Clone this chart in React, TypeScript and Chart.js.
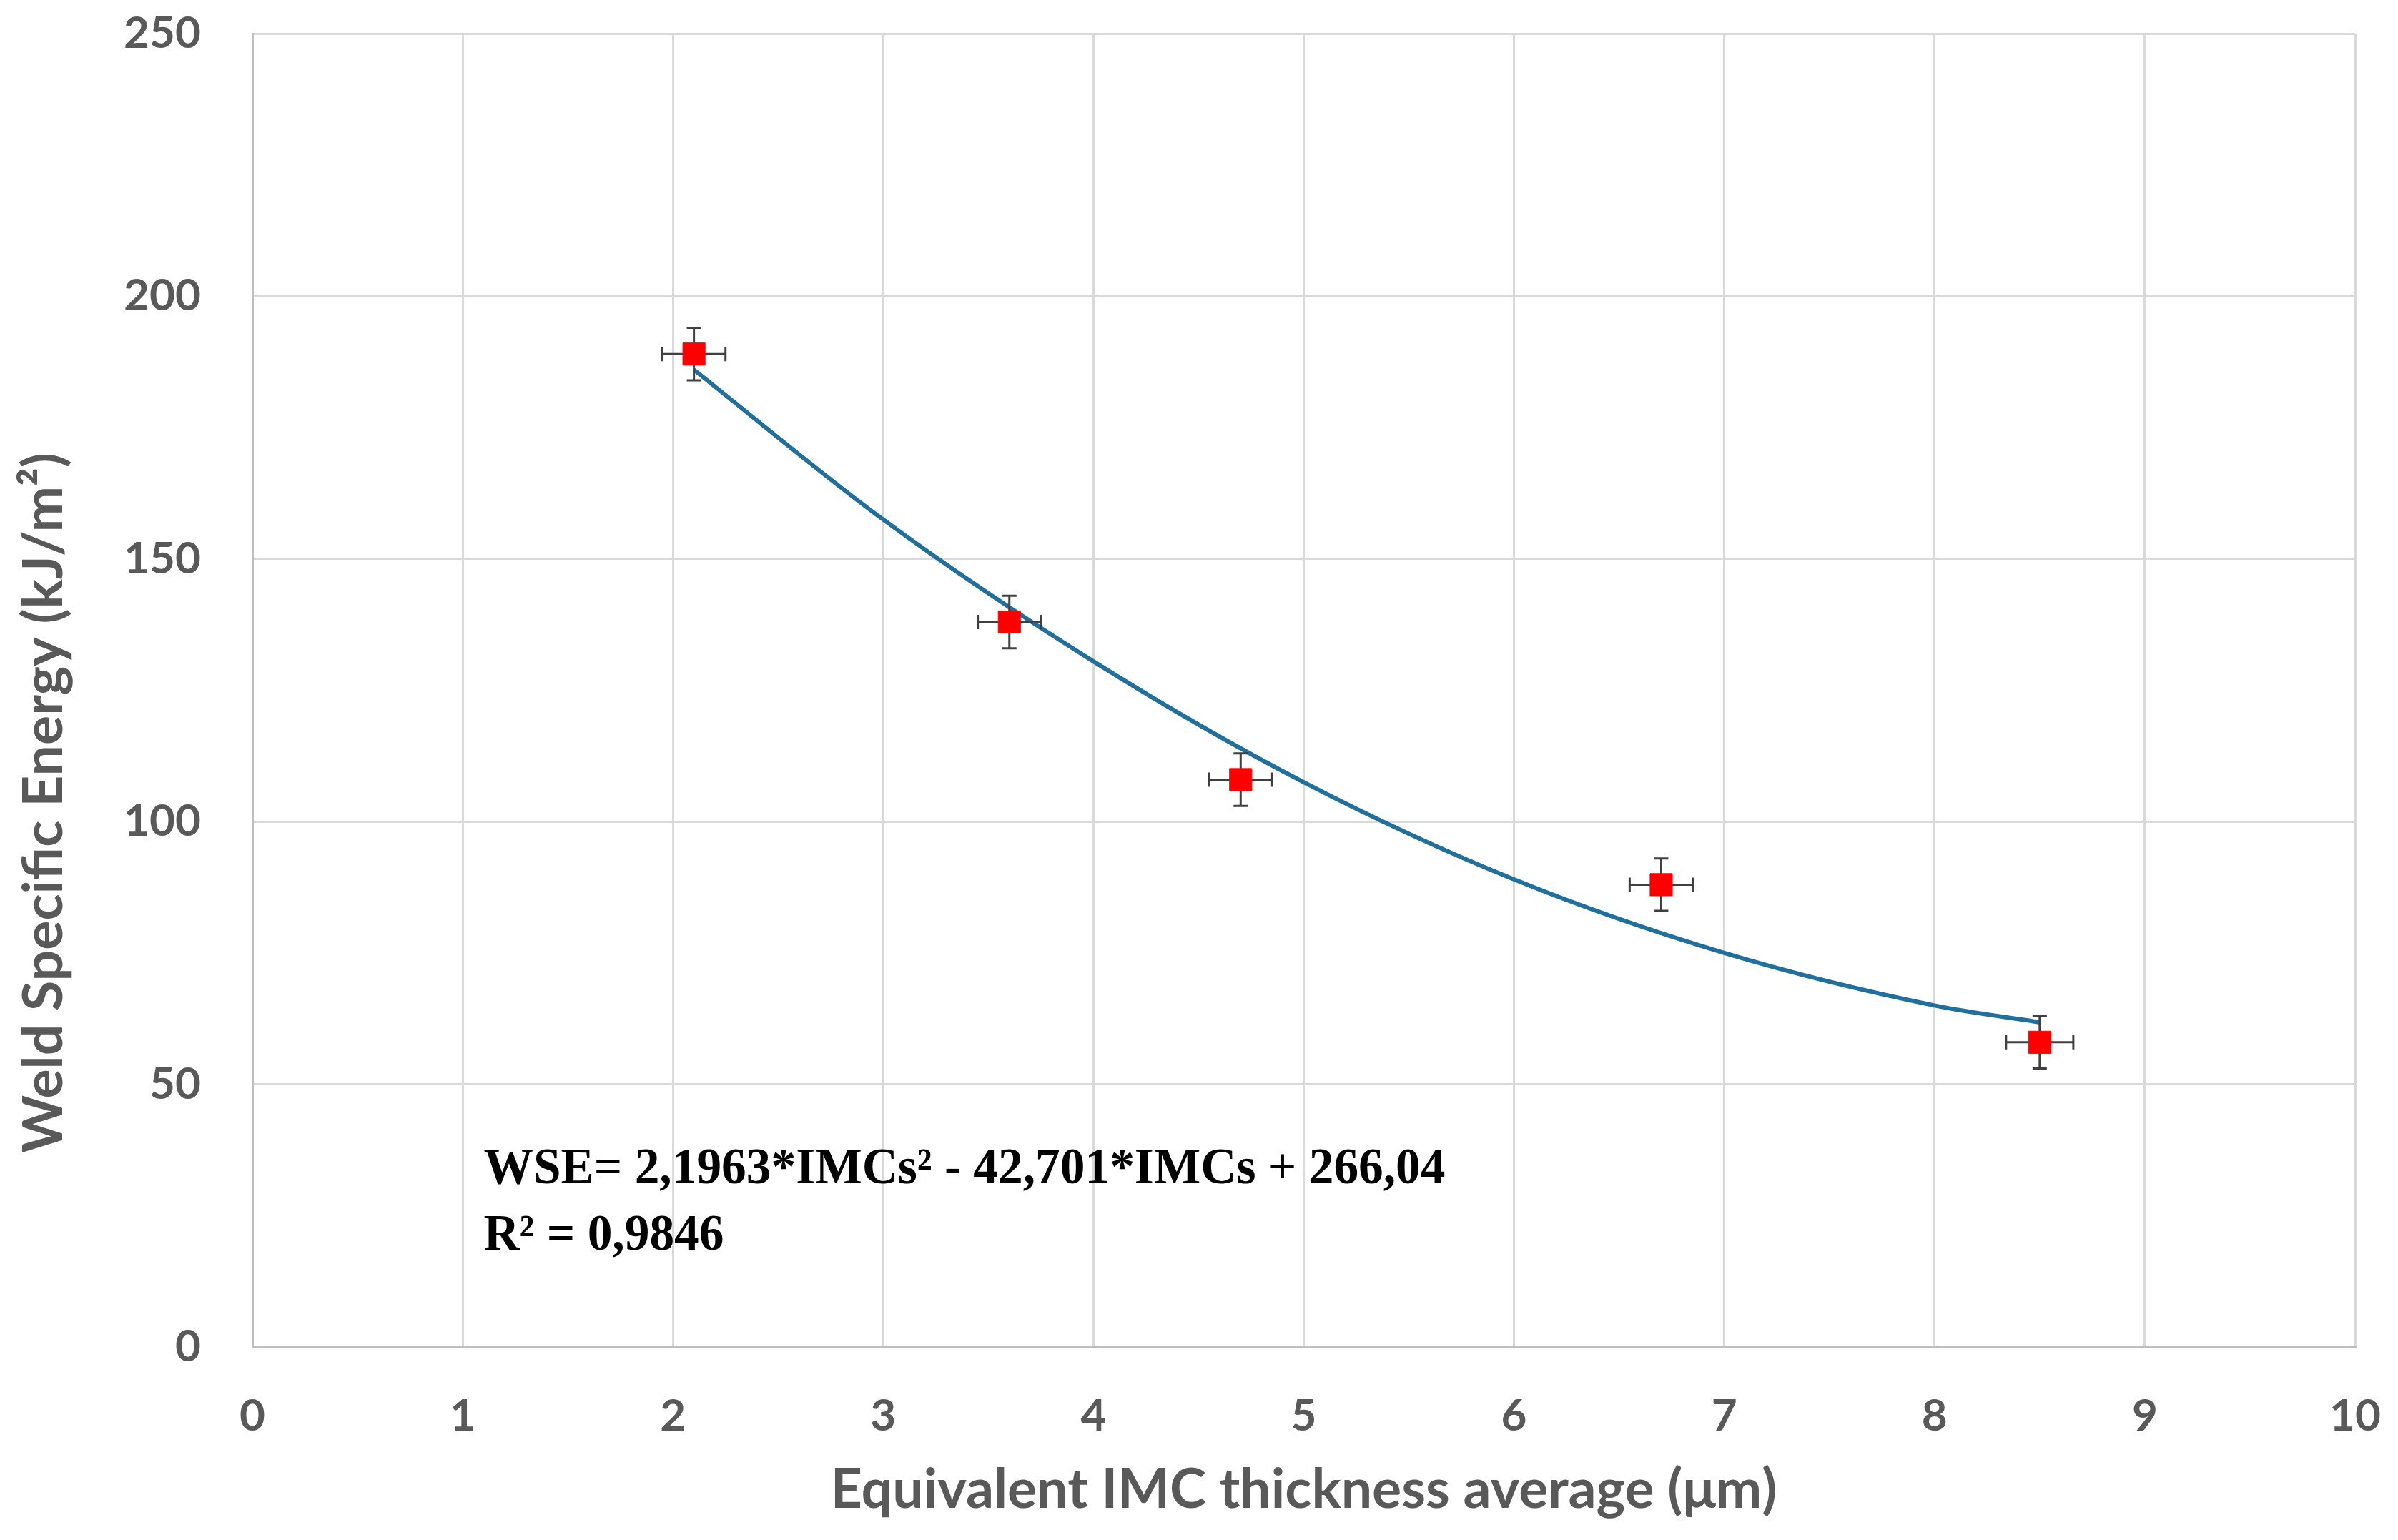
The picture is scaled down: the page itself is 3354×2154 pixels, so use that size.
import React, { useEffect, useRef } from "react";
import { Chart, registerables } from "chart.js";

Chart.register(...registerables);

// ---- data ----
const pointX = [2.1, 3.6, 4.7, 6.7, 8.5];
const pointY = [189, 138, 108, 88, 58];
const xErr = [0.15, 0.15, 0.15, 0.15, 0.16];
const yErr = [5, 5, 5, 5, 5];

const trendX = [2.1, 3, 4, 5, 6, 7, 8, 8.5];
const trendY = [186, 157.5, 130.5, 107.5, 89, 75, 65, 61.8];

const xMin = 0;
const xMax = 10;
const xStep = 1;
const yMin = 0;
const yMax = 250;
const yStep = 50;

const xTitle = "Equivalent IMC thickness average (μm)";
const yTitle = "Weld Specific Energy (kJ/m²)";
const eqLines = ["WSE= 2,1963*IMCs² - 42,701*IMCs + 266,04", "R² = 0,9846"];
const eqAnchorX = 1.1;
const eqAnchorY = [31.2, 18.5];

// ---- styles ----
const W = 3354;
const H = 2154;
const TICK_COLOR = "#595959";
const GRID_COLOR = "#d9d9d9";
const AXIS_COLOR = "#bfbfbf";
const SANS = "Lato, 'Open Sans', sans-serif";
const Y_TITLE_CX = 62;
const Y_TITLE_CY = 1123;

const errorBarPlugin = {
  id: "errorBars",
  beforeDatasetDraw(chart: any, args: any) {
    if (args.index !== 0) return;
    const { ctx, scales } = chart;
    const xs = scales.x;
    const ys = scales.y;
    const cap = 10;
    ctx.save();
    ctx.strokeStyle = "#404040";
    ctx.lineWidth = 3;
    for (let i = 0; i < pointX.length; i++) {
      const px = xs.getPixelForValue(pointX[i]);
      const py = ys.getPixelForValue(pointY[i]);
      const x1 = xs.getPixelForValue(pointX[i] - xErr[i]);
      const x2 = xs.getPixelForValue(pointX[i] + xErr[i]);
      const y1 = ys.getPixelForValue(pointY[i] + yErr[i]);
      const y2 = ys.getPixelForValue(pointY[i] - yErr[i]);
      ctx.beginPath();
      ctx.moveTo(x1, py);
      ctx.lineTo(x2, py);
      ctx.moveTo(x1, py - cap);
      ctx.lineTo(x1, py + cap);
      ctx.moveTo(x2, py - cap);
      ctx.lineTo(x2, py + cap);
      ctx.moveTo(px, y1);
      ctx.lineTo(px, y2);
      ctx.moveTo(px - cap, y1);
      ctx.lineTo(px + cap, y1);
      ctx.moveTo(px - cap, y2);
      ctx.lineTo(px + cap, y2);
      ctx.stroke();
    }
    ctx.restore();
  },
};

const textPlugin = {
  id: "texts",
  afterDraw(chart: any) {
    const { ctx, scales } = chart;
    // equation
    const targetWidth = 1345;
    ctx.save();
    ctx.font = "bold 72px 'Liberation Serif', 'Times New Roman', serif";
    ctx.fillStyle = "#000000";
    ctx.textBaseline = "alphabetic";
    ctx.textAlign = "left";
    const measured = ctx.measureText(eqLines[0]).width;
    const sx = targetWidth / measured;
    const x0 = scales.x.getPixelForValue(eqAnchorX);
    eqLines.forEach((line, i) => {
      const y0 = scales.y.getPixelForValue(eqAnchorY[i]);
      ctx.save();
      ctx.translate(x0, y0);
      ctx.scale(sx, 1);
      ctx.fillText(line, 0, 0);
      ctx.restore();
    });
    ctx.restore();
    // y-axis title
    ctx.save();
    ctx.translate(Y_TITLE_CX, Y_TITLE_CY);
    ctx.rotate(-Math.PI / 2);
    ctx.font = `bold 77px ${SANS}`;
    ctx.fillStyle = TICK_COLOR;
    ctx.textAlign = "center";
    ctx.textBaseline = "middle";
    ctx.fillText(yTitle, 0, 0);
    ctx.restore();
  },
};

export default function App() {
  const ref = useRef<HTMLCanvasElement | null>(null);

  useEffect(() => {
    document.body.style.margin = "0";
    const canvas = ref.current;
    if (!canvas) return;
    const chart = new Chart(canvas, {
      type: "scatter",
      data: {
        datasets: [
          {
            label: "Measured",
            data: pointX.map((x, i) => ({ x, y: pointY[i] })),
            pointStyle: "rect",
            pointRadius: 22,
            pointHoverRadius: 22,
            backgroundColor: "#ff0000",
            borderColor: "#ff0000",
            borderWidth: 1,
            showLine: false,
          },
          {
            label: "Trend",
            data: trendX.map((x, i) => ({ x, y: trendY[i] })),
            showLine: true,
            borderColor: "#206f9c",
            borderWidth: 6,
            pointRadius: 0,
            pointHoverRadius: 0,
            cubicInterpolationMode: "monotone",
            fill: false,
          },
        ],
      },
      options: {
        responsive: false,
        animation: false,
        devicePixelRatio: 1,
        layout: { padding: { left: 0, top: 47, right: 60, bottom: 0 } },
        plugins: {
          legend: { display: false },
          tooltip: { enabled: false },
        },
        scales: {
          x: {
            type: "linear",
            min: xMin,
            max: xMax,
            afterFit: (scale: any) => {
              scale.height = 270;
              scale.paddingLeft = 0;
              scale.paddingRight = 0;
            },
            ticks: {
              stepSize: xStep,
              color: TICK_COLOR,
              padding: 60,
              font: { family: SANS, size: 62, weight: "bold" },
            },
            grid: { color: GRID_COLOR, lineWidth: 3, drawTicks: false },
            border: { color: AXIS_COLOR, width: 3 },
            title: {
              display: true,
              text: xTitle,
              color: TICK_COLOR,
              padding: { top: 0, bottom: 24 },
              font: { family: SANS, size: 77, weight: "bold" },
            },
          },
          y: {
            type: "linear",
            min: yMin,
            max: yMax,
            afterFit: (scale: any) => {
              scale.width = 353;
              scale.paddingTop = 0;
              scale.paddingBottom = 0;
            },
            ticks: {
              stepSize: yStep,
              color: TICK_COLOR,
              padding: 72,
              font: { family: SANS, size: 62, weight: "bold" },
            },
            grid: { color: GRID_COLOR, lineWidth: 3, drawTicks: false },
            border: { color: AXIS_COLOR, width: 3 },
            title: { display: false, text: yTitle },
          },
        },
      },
      plugins: [errorBarPlugin, textPlugin],
    } as any);
    return () => chart.destroy();
  }, []);

  return (
    <div style={{ width: W, height: H, background: "#ffffff" }}>
      <canvas ref={ref} width={W} height={H} style={{ display: "block", width: W, height: H }} />
    </div>
  );
}
